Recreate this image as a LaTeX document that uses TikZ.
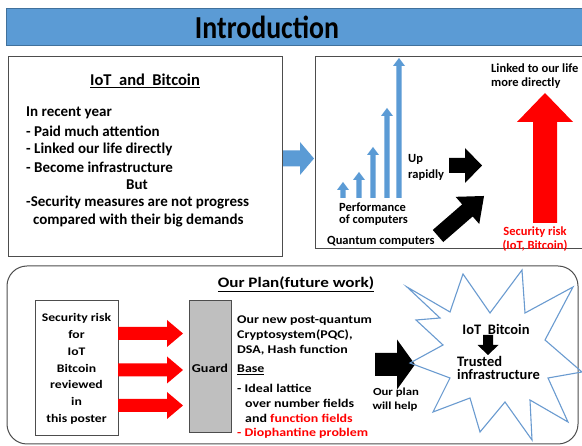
\documentclass[tikz,border=0pt]{standalone}
\usepackage{fontspec}
\setmainfont{Carlito}
\newfontfamily\widefont[FakeStretch=1.18]{Carlito}
\newfontfamily\narrowfont[FakeStretch=0.87]{Carlito}
\definecolor{titleblue}{HTML}{5B9BD5}
\definecolor{titleedge}{HTML}{41719C}
\definecolor{barblue}{HTML}{5B9BD5}
\definecolor{riskred}{HTML}{FF0000}
\definecolor{guardgray}{HTML}{BFBFBF}
\definecolor{panelline}{HTML}{4D4D4D}
\definecolor{starline}{HTML}{6A9BD0}

% solid block arrow: style, tail point, direction (deg), length,
% body half-width, head half-width, head length
\newcommand\blockarrow[7]{%
  \fill[#1,shift={#2},rotate=#3]
    (0,-#5) -- ({#4-#7},-#5) -- ({#4-#7},-#6) -- (#4,0)
    -- ({#4-#7},#6) -- ({#4-#7},#5) -- (0,#5) -- cycle;}

\begin{document}
\begin{tikzpicture}[x=1pt,y=-1pt,
  font=\bfseries,
  panel/.style={draw=panelline,line width=1pt},
  txt/.style={inner sep=0pt,anchor=west},
  ctxt/.style={inner sep=0pt},
  bigtxt/.style={txt,font=\fontsize{15}{18}\selectfont\bfseries},
  midtxt/.style={txt,font=\fontsize{12.5}{14}\selectfont\bfseries},
  smalltxt/.style={txt,font=\widefont\fontsize{11.8}{14}\selectfont\bfseries},
  plantxt/.style={ctxt,font=\widefont\fontsize{12}{14}\selectfont\bfseries}]
\useasboundingbox (0,0) rectangle (582,446);
\fill[white] (0,0) rectangle (582,446);

% title bar
\draw[fill=titleblue,draw=titleedge,line width=0.6pt] (6,8) rectangle (590,45);
\node[ctxt,font=\narrowfont\fontsize{32}{32}\selectfont\bfseries] (title) at (267,27) {Introduction};

% ---- upper left panel ----
\draw[panel] (8,57) rectangle (282,257);
\node[ctxt,font=\fontsize{16.5}{18}\selectfont\bfseries] (iothead) at (145,81) {\underline{IoT\ \ and\ \ Bitcoin}};
\node[bigtxt] (l1) at (26,113) {In recent year};
\node[bigtxt] (l2) at (26,131) {- Paid much attention};
\node[bigtxt] (l3) at (26,149) {- Linked our life directly};
\node[bigtxt] (l4) at (26,167) {- Become infrastructure};
\node[ctxt,font=\fontsize{15}{18}\selectfont\bfseries] (l5) at (137,185) {But};
\node[bigtxt] (l6) at (26,203) {-Security measures are not progress};
\node[bigtxt] (l7) at (33,221) {compared with their big demands};

% arrow between the upper panels
\blockarrow{barblue}{(283,158.5)}{0}{31}{8}{16.5}{14}

% ---- upper right panel ----
\draw[panel] (315,57) rectangle (600,249);
% growing performance bars
\blockarrow{barblue}{(343,198)}{90}{16}{2.6}{6}{8}
\blockarrow{barblue}{(359,198)}{90}{26}{2.6}{6}{8}
\blockarrow{barblue}{(373,198)}{90}{51}{2.6}{6}{8}
\blockarrow{barblue}{(387,198)}{90}{90}{2.6}{6}{8}
\blockarrow{barblue}{(399,198)}{90}{140}{2.6}{6}{8}
\node[midtxt] (perf1) at (339,207) {Performance};
\node[midtxt] (perf2) at (339,220) {of computers};
\node[midtxt] (up1) at (408,159) {Up};
\node[midtxt] (up2) at (408,175) {rapidly};
\node[midtxt] (quant) at (327,241) {Quantum computers};
\blockarrow{black}{(449,165.5)}{0}{33}{7.5}{17.5}{17}
\blockarrow{black}{(438,236)}{41}{61}{8}{18}{22}
% rising risk
\blockarrow{riskred}{(545,223)}{90}{130}{12}{28}{29}
\node[txt,font=\fontsize{12.5}{14}\selectfont\bfseries] (link1) at (491,68) {Linked to our life};
\node[txt,font=\fontsize{12.5}{14}\selectfont\bfseries] (link2) at (491,83) {more directly};
\node[ctxt,font=\fontsize{12.5}{14}\selectfont\bfseries,text=riskred] (risk1) at (535,232) {Security risk};
\node[ctxt,font=\fontsize{12.5}{14}\selectfont\bfseries,text=riskred] (risk2) at (535,246) {(IoT, Bitcoin)};

% ---- lower panel ----
\draw[panel,rounded corners=20pt] (7,266) rectangle (578,444);
\node[ctxt,font=\widefont\fontsize{14.5}{16}\selectfont\bfseries] (planhead) at (296,284) {\underline{Our Plan(future work)}};

\draw[panel] (35,301) rectangle (118,436);
\node[ctxt,align=center,font=\widefont\fontsize{11.6}{16.8}\selectfont\bfseries] (riskbox) at (76.5,369)
  {Security risk\\for\\IoT\\Bitcoin\\reviewed\\in\\this poster};

\blockarrow{riskred}{(118,333.5)}{0}{65}{6.5}{13.5}{16}
\blockarrow{riskred}{(118,370)}{0}{65}{6.5}{13.5}{16}
\blockarrow{riskred}{(118,405.5)}{0}{65}{6.5}{13.5}{16}

\draw[panel,fill=guardgray] (189,301) rectangle (231,433);
\node[plantxt] (guard) at (210,368) {Guard};

\node[smalltxt] (pqc1) at (237,321) {Our new post-quantum};
\node[smalltxt] (pqc2) at (237,335) {Cryptosystem(PQC),};
\node[smalltxt] (pqc3) at (237,350) {DSA, Hash function};
\node[smalltxt] (base) at (237,370) {\underline{Base}};
\node[smalltxt] (b1) at (237,388) {- Ideal lattice};
\node[smalltxt] (b2) at (245,403) {over number fields};
\node[smalltxt] (b3) at (245,418) {and \textcolor{riskred}{function fields}};
\node[smalltxt,text=riskred] (b4) at (237,433) {- Diophantine problem};

\blockarrow{black}{(375,364.5)}{0}{40}{11.5}{25}{18}
\node[ctxt,font=\widefont\fontsize{10.8}{14}\selectfont\bfseries] (help1) at (396,393) {Our plan};
\node[ctxt,font=\widefont\fontsize{10.8}{14}\selectfont\bfseries] (help2) at (395,407) {will help};

% explosion outline
\draw[starline,line width=1.1pt,line join=miter]
  (407,287) -- (450,312) -- (463,274) -- (490,313) -- (522,270)
  -- (525,313) -- (573,287) -- (545,340) -- (582,372) -- (548,378)
  -- (568,422) -- (530,400) -- (532,440) -- (505,402) -- (480,432)
  -- (470,398) -- (433,412) -- (450,378) -- (410,363) -- (443,345)
  -- (416,320) -- (440,318) -- cycle;
\node[ctxt,font=\fontsize{14.5}{14}\selectfont\bfseries] (iotbtc) at (496,329) {IoT\ \ Bitcoin};
\blockarrow{black}{(488,335)}{-90}{20}{5}{10.5}{10}
\node[txt,align=left,font=\fontsize{14.5}{13}\selectfont\bfseries] (trusted) at (457,368)
  {Trusted\\infrastructure};
\end{tikzpicture}
\end{document}
